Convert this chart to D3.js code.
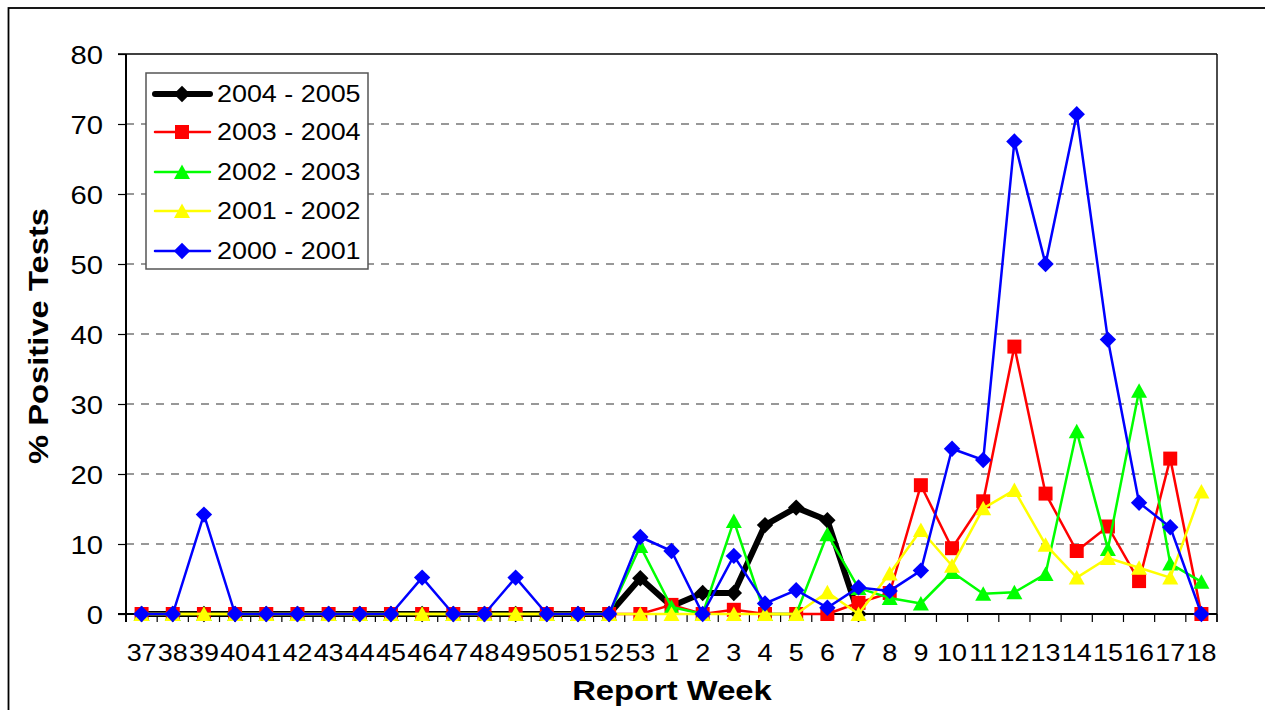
<!DOCTYPE html>
<html><head><meta charset="utf-8">
<script src="https://cdn.jsdelivr.net/npm/d3@7"></script>
<style>body{margin:0;background:#fff}svg{display:block}</style>
</head><body><svg id="chart" width="1265" height="710"></svg>
<script>
// ---- data ----
const weeks = ["37","38","39","40","41","42","43","44","45","46","47","48","49","50","51","52","53",
  "1","2","3","4","5","6","7","8","9","10","11","12","13","14","15","16","17","18"];
const yTicks = [0,10,20,30,40,50,60,70,80];
const seriesNames = ["2004 - 2005","2003 - 2004","2002 - 2003","2001 - 2002","2000 - 2001"];
const s2004_2005 = [0,0,0,0,0,0,0,0,0,0,0,0,0,0,0,0,5.1,
  1.1,3.0,3.0,12.7,15.2,13.4,0,null,null,null,null,null,null,null,null,null,null,null];
const s2003_2004 = [0,0,0,0,0,0,0,0,0,0,0,0,0,0,0,0,0,
  1.3,0,0.6,0,0,0,1.6,3.0,18.4,9.4,16.1,38.2,17.2,9.0,12.5,4.7,22.2,0];
const s2002_2003 = [0,0,0,0,0,0,0,0,0,0,0,0,0,0,0,0,9.7,
  1.0,0,13.3,0,0,11.4,3.7,2.3,1.5,6.0,2.9,3.1,5.7,26.1,9.3,31.9,7.2,4.6];
const s2001_2002 = [0,0,0,0,0,0,0,0,0,0,0,0,0,0,0,0,0,
  0,0,0,0,0,3.1,0,5.8,12.0,6.9,15.1,17.7,9.9,5.2,8.0,6.6,5.2,17.5];
const s2000_2001 = [0,0,14.2,0,0,0,0,0,0,5.2,0,0,5.2,0,0,0,11.0,
  9.0,0,8.3,1.5,3.4,0.9,3.8,3.3,6.2,23.6,22.0,67.5,50.0,71.4,39.2,15.9,12.4,0];

const seriesValues = [s2004_2005, s2003_2004, s2002_2003, s2001_2002, s2000_2001];
const colors = ["#000000","#FF0000","#00FF00","#FFFF00","#0000FF"];
const markers = ["diamond","square","triangle","triangle","diamond"];
const widths = [6,2.5,2.5,2.5,2.5];

// ---- layout ----
const FONT = "'Liberation Sans', Arial, Helvetica, sans-serif";
const SX = 1.17;
const M = {left:126, right:1217, top:54, bottom:614};
const svg = d3.select("#chart");

const x = d3.scaleBand().domain(weeks).range([M.left, M.right]).padding(0);
const cx = w => x(w) + x.bandwidth()/2;
const y = d3.scaleLinear().domain([0,80]).range([M.bottom, M.top]);

function markerPath(type){
  if(type==="diamond") return "M0,-8.2L8.2,0L0,8.2L-8.2,0Z";
  if(type==="square") return "M-7,-7H7V7H-7Z";
  return "M0,-7.5L8,7H-8Z";
}

// outer frame
svg.append("rect").attr("x",8.5).attr("y",8).attr("width",1400).attr("height",900)
  .attr("fill","none").attr("stroke","#000").attr("stroke-width",1.8);

// gridlines
svg.append("g").selectAll("line").data(yTicks.filter(t=>t>0 && t<80)).join("line")
  .attr("x1",M.left).attr("x2",M.right).attr("y1",d=>y(d)).attr("y2",d=>y(d))
  .attr("stroke","#333").attr("stroke-width",1.2).attr("stroke-dasharray","8,7");

// plot top & right border
svg.append("line").attr("x1",M.left-8).attr("x2",M.right).attr("y1",y(80)).attr("y2",y(80))
  .attr("stroke","#000").attr("stroke-width",1.4);
svg.append("line").attr("x1",M.right).attr("x2",M.right).attr("y1",M.top).attr("y2",M.bottom+8)
  .attr("stroke","#000").attr("stroke-width",1.4);

// y axis
const gy = svg.append("g").attr("transform",`translate(${M.left},0)`)
  .call(d3.axisLeft(y).tickValues(yTicks).tickSize(8).tickFormat(d3.format("d")));
gy.select(".domain").remove();
gy.selectAll(".tick line").attr("stroke","#000").attr("stroke-width",1.2);
gy.selectAll(".tick text").attr("x",0).attr("dy",null).attr("y",0)
  .attr("transform",`translate(-23,9) scale(${SX},1)`)
  .attr("fill","#000").style("font-family",FONT).style("font-size","25px");

// x axis (labels at category centers)
const gx = svg.append("g").attr("transform",`translate(0,${M.bottom})`)
  .call(d3.axisBottom(x).tickSize(0));
gx.select(".domain").remove();
gx.selectAll(".tick text").attr("y",0).attr("dy",null)
  .attr("transform",`translate(0,47) scale(${SX},1)`)
  .attr("fill","#000").style("font-family",FONT).style("font-size","23px");
// x tick marks between categories
const bounds = weeks.map(w=>x(w)).concat([x.range()[1]]);
svg.append("g").selectAll("line").data(bounds).join("line")
  .attr("x1",d=>d).attr("x2",d=>d).attr("y1",M.bottom).attr("y2",M.bottom+8)
  .attr("stroke","#000").attr("stroke-width",1.2);

// axis lines
svg.append("line").attr("x1",M.left).attr("x2",M.left).attr("y1",M.top).attr("y2",M.bottom+8)
  .attr("stroke","#000").attr("stroke-width",2);
svg.append("line").attr("x1",M.left-8).attr("x2",M.right).attr("y1",M.bottom).attr("y2",M.bottom)
  .attr("stroke","#000").attr("stroke-width",2);

// series
const line = d3.line().defined(d=>d.v!==null).x(d=>cx(d.w)).y(d=>y(d.v));
seriesValues.forEach((vals,i)=>{
  const pts = weeks.map((w,j)=>({w, v: vals[j]}));
  const g = svg.append("g");
  g.append("path").datum(pts).attr("d",line).attr("fill","none")
    .attr("stroke",colors[i]).attr("stroke-width",widths[i])
    .attr("stroke-linejoin","round").attr("stroke-linecap","round");
  g.selectAll("path.m").data(pts.filter(d=>d.v!==null)).join("path").attr("class","m")
    .attr("d",markerPath(markers[i]))
    .attr("transform",d=>`translate(${cx(d.w)},${y(d.v)})`)
    .attr("fill",colors[i]);
});

// axis titles
svg.append("text").attr("transform",`translate(672,700) scale(${SX},1)`)
  .attr("text-anchor","middle").style("font-family",FONT).style("font-size","28px")
  .style("font-weight","bold").text("Report Week");
svg.append("text").attr("transform",`translate(48,336) rotate(-90) scale(${SX},1)`)
  .attr("text-anchor","middle").style("font-family",FONT).style("font-size","28px")
  .style("font-weight","bold").text("% Positive Tests");

// legend
const lg = svg.append("g");
lg.append("rect").attr("x",146).attr("y",73).attr("width",222).attr("height",196)
  .attr("fill","#fff").attr("stroke","#555").attr("stroke-width",1.5);
const legY = [94,132,172,211,251];
seriesNames.forEach((name,i)=>{
  const yy = legY[i];
  lg.append("line").attr("x1",155).attr("x2",210).attr("y1",yy).attr("y2",yy)
    .attr("stroke",colors[i]).attr("stroke-width",widths[i]).attr("stroke-linecap","round");
  lg.append("path").attr("d",markerPath(markers[i])).attr("transform",`translate(182,${yy})`)
    .attr("fill",colors[i]);
  lg.append("text").attr("transform",`translate(217,${yy+8}) scale(${SX},1)`)
    .style("font-family",FONT).style("font-size","23px").text(name);
});
</script></body></html>
